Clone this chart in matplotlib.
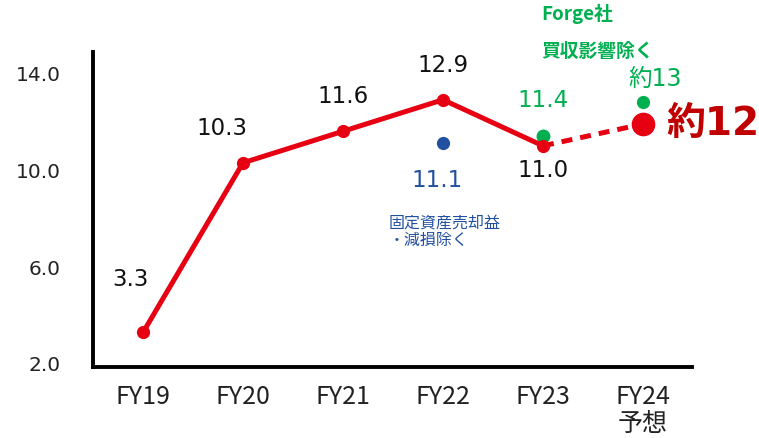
import matplotlib
matplotlib.use("Agg")
import matplotlib.pyplot as plt

plt.rcParams['font.family'] = ['DejaVu Sans', 'Noto Sans CJK JP']

years = ['FY19', 'FY20', 'FY21', 'FY22', 'FY23', 'FY24\n予想']
actual = [3.3, 10.3, 11.6, 12.9, 11.0]
actual_labels = ['3.3', '10.3', '11.6', '12.9', '11.0']
forecast = 11.9
forecast_label = '約12'
adj_fy22 = 11.1          # 固定資産売却益・減損除く
adj_fy23 = 11.4          # Forge社買収影響除く
adj_fy24 = 12.8
adj_fy24_label = '約13'
yticks = [2.0, 6.0, 10.0, 14.0]

RED = '#E60012'
DARKRED = '#C00000'
GREEN = '#00B050'
BLUE = '#2250A0'

fig = plt.figure(figsize=(7.59, 4.38), dpi=100)
ax = fig.add_axes([93/759, 1 - 367/438, (692 - 93)/759, (367 - 52)/438])

x = list(range(len(years)))

# actual line
ax.plot(x[:5], actual, color=RED, lw=3.6, marker='o', ms=8.5, zorder=3,
        solid_capstyle='round')
# forecast dashed
ax.plot([x[4], x[5]], [actual[-1], forecast], color=RED, lw=3.6,
        ls=(0, (2.2, 1.6)), zorder=2)
ax.plot([x[5]], [forecast], 'o', color=RED, ms=16, zorder=4)

# adjusted points
ax.plot([x[3]], [adj_fy22], 'o', color=BLUE, ms=8.5, zorder=4)
ax.plot([x[4]], [adj_fy23], 'o', color=GREEN, ms=9, zorder=2)
ax.plot([x[5]], [adj_fy24], 'o', color=GREEN, ms=8.5, zorder=4)

# value labels
offs = [(-9, 38), (-15, 25), (0, 25), (0, 25), (0, -18)]
for xi, v, lab, o in zip(x, actual, actual_labels, offs):
    ax.annotate(lab, (xi, v), xytext=o, textcoords='offset points',
                ha='center', va='center', fontsize=16.5, color='#111111')

ax.annotate(f'{adj_fy23:.1f}', (x[4], adj_fy23), xytext=(0, 26),
            textcoords='offset points', ha='center', va='center',
            fontsize=16.5, color=GREEN)
ax.annotate(f'{adj_fy22:.1f}', (x[3], adj_fy22), xytext=(-4, -27),
            textcoords='offset points', ha='center', va='center',
            fontsize=16.5, color=BLUE)
ax.annotate(adj_fy24_label, (x[5], adj_fy24), xytext=(9, 17),
            textcoords='offset points', ha='center', va='center',
            fontsize=17, color=GREEN)
ax.annotate(forecast_label, (x[5], forecast), xytext=(17, 0),
            textcoords='offset points', ha='left', va='center',
            fontsize=28, fontweight='bold', color=DARKRED)

ax.text(2.46, 7.45, '固定資産売却益\n・減損除く', ha='left', va='center',
        fontsize=11.5, color=BLUE, linespacing=1.05,
        family=['Noto Sans CJK JP'])
ax.text(3.98, 16.45, 'Forge社', ha='left', va='center', fontsize=13.5,
        fontweight='bold', color=GREEN, clip_on=False,
        family=['Noto Sans CJK JP'])
ax.text(3.98, 14.88, '買収影響除く', ha='left', va='center', fontsize=13.5,
        fontweight='bold', color=GREEN, clip_on=False,
        family=['Noto Sans CJK JP'])

ax.set_xlim(-0.5, 5.49)
ax.set_ylim(1.876, 14.87)
ax.set_xticks(x)
ax.set_xticklabels(years, fontsize=18, color='#222222',
                   family=['Noto Sans CJK JP'], linespacing=1.05)
ax.set_yticks(yticks)
ax.set_yticklabels([f'{t:.1f}' for t in yticks], fontsize=14.5,
                   color='#222222')
ax.tick_params(axis='both', length=0)
ax.tick_params(axis='y', pad=23)
ax.tick_params(axis='x', pad=12)

for s in ['top', 'right']:
    ax.spines[s].set_visible(False)
for s in ['left', 'bottom']:
    ax.spines[s].set_linewidth(2.8)
    ax.spines[s].set_color('black')

fig.savefig('out.png', dpi=100)
